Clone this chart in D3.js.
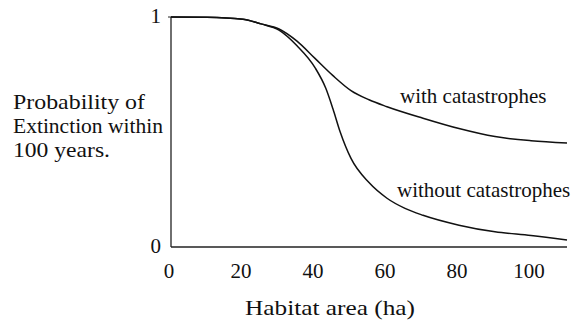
<!DOCTYPE html>
<html><head><meta charset="utf-8">
<script src="https://cdn.jsdelivr.net/npm/d3@7"></script>
<style>body{margin:0;background:#fff}svg{display:block}</style>
</head><body><svg id="c" width="579" height="325"></svg>
<script>
const xTicks = [0, 20, 40, 60, 80, 100];
const yTicks = [0, 1];
const areaWith = [0, 10, 20, 25, 30, 35, 40, 45, 50, 55, 60, 70, 80, 90, 100, 110];
const probWith = [1.0, 0.999, 0.99, 0.97, 0.948, 0.895, 0.82, 0.745, 0.68, 0.64, 0.61, 0.56, 0.515, 0.48, 0.462, 0.452];
const areaWithout = [0, 10, 20, 25, 30, 35, 40, 43, 45, 47, 50, 55, 60, 65, 70, 80, 90, 100, 110];
const probWithout = [1.0, 0.999, 0.99, 0.97, 0.943, 0.875, 0.78, 0.69, 0.6, 0.5, 0.385, 0.28, 0.212, 0.168, 0.138, 0.095, 0.066, 0.05, 0.03];
const seriesLabels = ["with catastrophes", "without catastrophes"];
const yTitle = ["Probability of", "Extinction within", "100 years."];
const xTitle = "Habitat area (ha)";

const FONT = "'Liberation Serif'";
const svg = d3.select("#c");
const x = d3.scaleLinear().domain([0, 110]).range([171, 567]);
const y = d3.scaleLinear().domain([0, 1]).range([247, 17]);

function txt(sel, size) {
  return sel.style("font-family", FONT).style("font-size", size + "px").style("fill", "#111");
}

// axes
svg.append("line").attr("x1", x(0)).attr("x2", x(0)).attr("y1", y(0)).attr("y2", y(1))
  .attr("stroke", "#222").attr("stroke-width", 1.3);
svg.append("line").attr("x1", x(0)).attr("x2", x(110)).attr("y1", y(0)).attr("y2", y(0))
  .attr("stroke", "#222").attr("stroke-width", 1.5);
svg.append("line").attr("x1", x(0) - 3).attr("x2", x(0)).attr("y1", y(1)).attr("y2", y(1))
  .attr("stroke", "#222").attr("stroke-width", 1);

txt(svg.selectAll(".xt").data(xTicks).enter().append("text")
  .attr("x", d => x(d) - 2).attr("y", 278).attr("text-anchor", "middle"), 21).text(d => d);
txt(svg.selectAll(".yt").data(yTicks).enter().append("text")
  .attr("x", 161).attr("y", d => y(d) + 6).attr("text-anchor", "end"), 21).text(d => d);

txt(svg.append("text").attr("x", 245).attr("y", 315)
  .attr("textLength", 170).attr("lengthAdjust", "spacingAndGlyphs"), 22).text(xTitle);
const yLens = [132, 150, 97];
txt(svg.selectAll(".yl").data(yTitle).enter().append("text")
  .attr("x", 13).attr("y", (d, i) => 109 + i * 24)
  .attr("textLength", (d, i) => yLens[i]).attr("lengthAdjust", "spacingAndGlyphs"), 21.5).text(d => d);

const line = d3.line().x(d => x(d[0])).y(d => y(d[1])).curve(d3.curveMonotoneX);
const s1 = areaWith.map((a, i) => [a, probWith[i]]);
const s2 = areaWithout.map((a, i) => [a, probWithout[i]]);
[s1, s2].forEach(s => svg.append("path").attr("d", line(s)).attr("fill", "none")
  .attr("stroke", "#111").attr("stroke-width", 1.5));

txt(svg.append("text").attr("x", 400).attr("y", 103), 21).text(seriesLabels[0]);
txt(svg.append("text").attr("x", 397).attr("y", 197), 21).text(seriesLabels[1]);
</script></body></html>
